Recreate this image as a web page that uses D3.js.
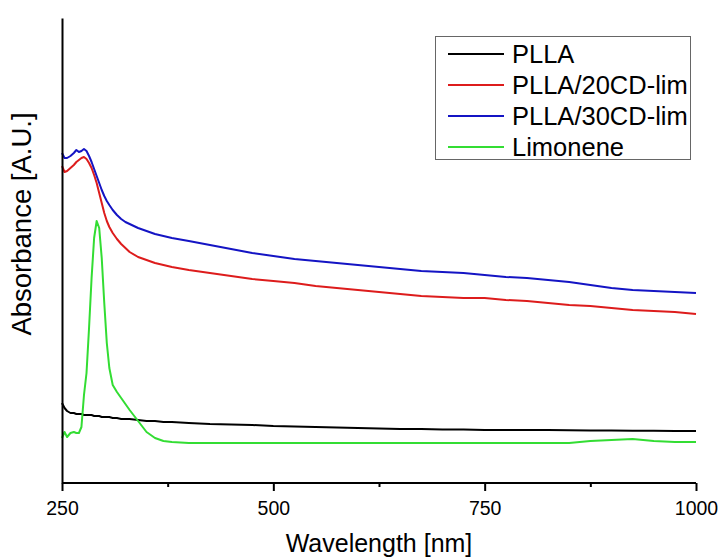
<!DOCTYPE html>
<html>
<head>
<meta charset="utf-8">
<script src="https://cdn.jsdelivr.net/npm/d3@7"></script>
<style>
  html, body { margin: 0; padding: 0; background: #fff; }
  svg { display: block; font-family: "Liberation Sans", Arial, sans-serif; }
</style>
</head>
<body>
<svg id="chart" width="721" height="558"></svg>
<script>
// ---- data ----
const wavelength = [250,253,256,260,264,267,270,273,276,279,282,285,288,291,294,297,300,303,306,310,315,320,325,330,340,350,360,370,380,400,425,450,475,500,525,550,575,600,625,650,675,700,725,750,775,800,825,850,875,900,925,950,975,1000];

const seriesNames = ["PLLA", "PLLA/20CD-lim", "PLLA/30CD-lim", "Limonene"];

const plla = [0.80,0.75,0.72,0.70,0.70,0.69,0.69,0.69,0.68,0.68,0.68,0.68,0.67,0.67,0.67,0.66,0.66,0.66,0.66,0.65,0.65,0.64,0.64,0.64,0.63,0.62,0.62,0.61,0.61,0.60,0.59,0.585,0.58,0.57,0.565,0.56,0.555,0.55,0.545,0.54,0.54,0.535,0.535,0.53,0.53,0.53,0.53,0.528,0.525,0.525,0.522,0.522,0.52,0.52];

const plla20 = [3.17,3.11,3.12,3.15,3.18,3.21,3.23,3.25,3.26,3.24,3.20,3.15,3.08,3.00,2.90,2.80,2.70,2.62,2.56,2.50,2.44,2.39,2.35,2.31,2.26,2.23,2.20,2.18,2.16,2.13,2.10,2.07,2.04,2.02,2.00,1.97,1.95,1.93,1.91,1.89,1.87,1.86,1.85,1.85,1.83,1.82,1.80,1.78,1.77,1.75,1.73,1.72,1.71,1.69];

const plla30 = [3.30,3.25,3.25,3.27,3.30,3.33,3.31,3.32,3.34,3.32,3.27,3.21,3.14,3.07,3.00,2.93,2.87,2.82,2.78,2.73,2.68,2.64,2.61,2.59,2.55,2.52,2.49,2.47,2.45,2.42,2.38,2.34,2.30,2.27,2.24,2.22,2.20,2.18,2.16,2.14,2.12,2.11,2.10,2.08,2.06,2.05,2.03,2.01,1.98,1.95,1.93,1.92,1.91,1.90];

const limonene = [0.45,0.51,0.46,0.50,0.51,0.50,0.50,0.56,0.88,1.10,1.55,2.05,2.45,2.62,2.55,2.25,1.80,1.40,1.15,0.98,0.91,0.85,0.79,0.73,0.62,0.51,0.45,0.42,0.41,0.40,0.40,0.40,0.40,0.40,0.40,0.40,0.40,0.40,0.40,0.40,0.40,0.40,0.40,0.40,0.40,0.40,0.40,0.40,0.42,0.43,0.44,0.42,0.41,0.41];

const seriesValues = [plla, plla20, plla30, limonene];
const seriesColors = ["#000000", "#dd1c1c", "#1414c4", "#33dd33"];

const xTickValues = [250, 500, 750, 1000];
const xMinorTicks = [375, 625, 875];
const xTitle = "Wavelength [nm]";
const yTitle = "Absorbance [A.U.]";

// ---- layout ----
const svg = d3.select("#chart");
const mLeft = 62, mRight = 696, mBottom = 483, mTop = 18;

const x = d3.scaleLinear().domain([250, 1000]).range([mLeft, mRight]);
const y = d3.scaleLinear().domain([0, 4.65]).range([mBottom, mTop]);

// lines
const line = d3.line().x(d => x(d[0])).y(d => y(d[1]));
seriesValues.forEach((vals, i) => {
  const pts = wavelength.map((w, j) => [w, vals[j]]);
  svg.append("path")
    .datum(pts)
    .attr("fill", "none")
    .attr("stroke", seriesColors[i])
    .attr("stroke-width", 2)
    .attr("stroke-linejoin", "round")
    .attr("d", line);
});

// x axis major
const xAxis = svg.append("g")
  .attr("transform", `translate(0,${mBottom})`)
  .call(d3.axisBottom(x).tickValues(xTickValues).tickSize(8).tickPadding(10).tickFormat(d3.format("d")));
xAxis.select(".domain").attr("stroke", "#000").attr("stroke-width", 2).attr("d", `M${mLeft},0H${mRight}`);
xAxis.selectAll(".tick line").attr("stroke", "#000").attr("stroke-width", 2);
xAxis.selectAll(".tick text").attr("font-size", 19.5).attr("fill", "#000")
  .attr("font-family", '"Liberation Sans", Arial, sans-serif');

// minor ticks
const xMinor = svg.append("g")
  .attr("transform", `translate(0,${mBottom})`)
  .call(d3.axisBottom(x).tickValues(xMinorTicks).tickSize(4).tickFormat(""));
xMinor.select(".domain").remove();
xMinor.selectAll(".tick line").attr("stroke", "#000").attr("stroke-width", 2);

// y axis (no ticks)
const yAxis = svg.append("g")
  .attr("transform", `translate(${mLeft},0)`)
  .call(d3.axisLeft(y).tickValues([]).tickSizeOuter(0));
yAxis.select(".domain").attr("stroke", "#000").attr("stroke-width", 2);

// titles
svg.append("text")
  .attr("x", (mLeft + mRight) / 2).attr("y", 552)
  .attr("text-anchor", "middle").attr("font-size", 25).attr("fill", "#000")
  .text(xTitle);

svg.append("text")
  .attr("transform", `translate(31,224) rotate(-90)`)
  .attr("text-anchor", "middle").attr("font-size", 27.5).attr("fill", "#000")
  .text(yTitle);

// legend
const lg = svg.append("g");
lg.append("rect").attr("x", 435.5).attr("y", 36.5).attr("width", 255).attr("height", 123)
  .attr("fill", "#fff").attr("stroke", "#666").attr("stroke-width", 1);
seriesNames.forEach((name, i) => {
  const cy = 54 + i * 31;
  lg.append("line").attr("x1", 448).attr("x2", 504).attr("y1", cy).attr("y2", cy)
    .attr("stroke", seriesColors[i]).attr("stroke-width", 2);
  lg.append("text").attr("x", 512).attr("y", cy + 9)
    .attr("font-size", 25.5).attr("fill", "#000").text(name);
});
</script>
</body>
</html>
